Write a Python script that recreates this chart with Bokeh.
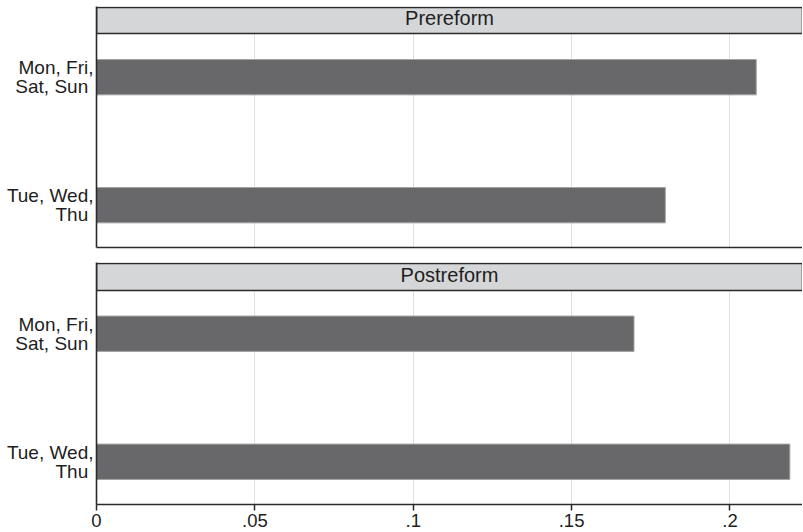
from bokeh.plotting import figure
from bokeh.layouts import column
from bokeh.models import FixedTicker, Range1d
from bokeh.core.properties import value
from bokeh.embed import file_html
from bokeh.resources import INLINE

# ---- data ----
categories = ["Mon, Fri,\nSat, Sun\u00a0", "Tue, Wed,\nThu\u00a0"]
panel_titles = ["Prereform", "Postreform"]
prereform = [0.2083, 0.1796]
postreform = [0.1697, 0.2189]
x_ticks = [0, 0.05, 0.1, 0.15, 0.2]
x_tick_labels = ["0", ".05", ".1", ".15", ".2"]

# ---- style / layout ----
X_END = 0.2229
FONT = "Liberation Sans"
DARK = "#2a2a2a"
BAR = "#68686a"
BAR_EDGE = "#a3a3a3"
HEADER = "#d5d6d8"
GRID = "#e0e0e0"
PX = 128.0  # pixels per category step


def panel(title, values, y_start, y_end, header_bottom, frame_height,
          border_top, bottom_axis):
    n = len(categories)
    ypos = [n - 1 - i for i in range(n)]
    p = figure(frame_width=706, frame_height=frame_height,
               x_range=Range1d(0, X_END), y_range=Range1d(y_start, y_end),
               output_backend="svg", toolbar_location=None,
               min_border_left=96, min_border_right=0, min_border_top=border_top,
               min_border_bottom=0 if bottom_axis else 15)
    p.outline_line_color = None
    p.background_fill_color = "white"
    p.border_fill_color = "white"

    # grid
    p.ygrid.visible = False
    p.xgrid.ticker = FixedTicker(ticks=x_ticks)
    p.xgrid.grid_line_color = GRID
    p.xgrid.grid_line_width = 1

    # bars
    p.hbar(y=ypos, left=0, right=values, height=0.276,
           fill_color=BAR, line_color=BAR_EDGE, line_width=1)

    # header strip
    p.quad(left=[0], right=[X_END], bottom=[header_bottom], top=[y_end - 1.0 / PX],
           fill_color=HEADER, line_color=DARK, line_width=1.6)
    p.text(x=[X_END / 2], y=[(header_bottom + y_end) / 2 + 2.0 / PX], text=[title],
           text_align="center", text_baseline="middle",
           text_font=value(FONT), text_font_size="20px", text_color="#1e1e1e")

    # y axis
    ya = p.yaxis[0]
    ya.ticker = FixedTicker(ticks=ypos)
    ya.major_label_overrides = {ypos[i]: categories[i] for i in range(n)}
    ya.major_label_text_font = FONT
    ya.major_label_text_font_size = "19px"
    ya.major_label_text_line_height = 0.9
    ya.major_label_text_color = "#1e1e1e"
    ya.major_label_standoff = 3
    ya.major_tick_out = 0
    ya.major_tick_in = 0
    ya.minor_tick_line_color = None
    ya.axis_line_color = DARK
    ya.axis_line_width = 1.6

    # x axis
    xa = p.xaxis[0]
    xa.axis_line_color = DARK
    xa.axis_line_width = 1.6
    xa.minor_tick_line_color = None
    if bottom_axis:
        xa.ticker = FixedTicker(ticks=x_ticks)
        xa.major_label_overrides = {x_ticks[i]: x_tick_labels[i] for i in range(len(x_ticks))}
        xa.major_label_text_font = FONT
        xa.major_label_text_font_size = "18.5px"
        xa.major_label_text_color = "#1e1e1e"
        xa.major_label_standoff = 3
        xa.major_tick_out = 6
        xa.major_tick_in = 0
        xa.major_tick_line_color = DARK
        xa.major_tick_line_width = 1.5
    else:
        xa.ticker = FixedTicker(ticks=[])
        xa.major_label_standoff = 0
        xa.major_tick_out = 0
        xa.major_tick_in = 0
    return p


p1 = panel(panel_titles[0], prereform, -0.3305, 1.5523, 1.3414, 241, 6, False)
p2 = panel(panel_titles[1], postreform, -0.3336, 1.5563, 1.3375, 242, 0, True)

layout = column(p1, p2, spacing=0)
open("out.html", "w").write(file_html(layout, INLINE))
